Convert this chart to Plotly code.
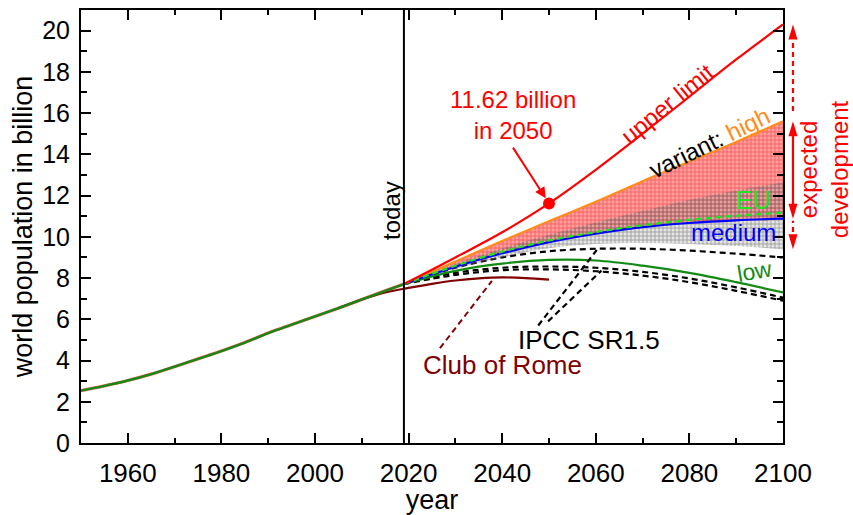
import plotly.graph_objects as go

# ---- data (world population in billion) ----
hist_years = [1950, 1955, 1960, 1965, 1970, 1975, 1980, 1985, 1990, 1995, 2000, 2005, 2010, 2015, 2019]
hist_pop = [2.54, 2.77, 3.03, 3.34, 3.70, 4.08, 4.46, 4.87, 5.33, 5.74, 6.14, 6.54, 6.96, 7.38, 7.71]

proj_years = [2019, 2030, 2040, 2050, 2060, 2070, 2080, 2090, 2100]
upper_limit = [7.71, 9.00, 10.22, 11.62, 13.25, 15.00, 16.80, 18.60, 20.30]
variant_high = [7.71, 8.80, 9.80, 10.75, 11.70, 12.70, 13.65, 14.60, 15.60]
variant_medium = [7.71, 8.55, 9.20, 9.74, 10.15, 10.47, 10.67, 10.80, 10.88]
variant_eu = [7.71, 8.60, 9.28, 9.82, 10.23, 10.56, 10.82, 11.02, 11.17]
variant_low = [7.71, 8.35, 8.70, 8.88, 8.85, 8.60, 8.25, 7.80, 7.30]
medium_band_lo = [7.71, 8.45, 9.00, 9.45, 9.65, 9.70, 9.65, 9.55, 9.40]
medium_band_hi = [7.71, 8.67, 9.45, 10.10, 10.70, 11.25, 11.80, 12.25, 12.65]
ipcc_a = [7.71, 8.50, 9.00, 9.30, 9.42, 9.42, 9.33, 9.18, 9.00]
ipcc_b = [7.71, 8.25, 8.50, 8.56, 8.50, 8.30, 7.98, 7.55, 7.05]
ipcc_c = [7.71, 8.15, 8.38, 8.42, 8.33, 8.12, 7.80, 7.38, 6.90]

club_years = [2005, 2010, 2015, 2020, 2025, 2030, 2035, 2040, 2045, 2050]
club_of_rome = [6.54, 6.96, 7.30, 7.52, 7.72, 7.88, 7.98, 8.03, 8.00, 7.92]

today = 2019
marked_year = 2050

FONT = "Liberation Sans, Arial, sans-serif"
RED = "#ff0000"
ORANGE = "#ff8c1a"
BLUE = "#0000ff"
LIME = "#22e022"
GREEN = "#138a13"
DARKRED = "#800000"

fig = go.Figure()

# hatched band between medium and high variant
fig.add_trace(go.Scatter(x=proj_years, y=variant_medium, mode="lines", line=dict(width=0, shape="spline"),
                         hoverinfo="skip"))
fig.add_trace(go.Scatter(x=proj_years, y=variant_high, mode="lines", line=dict(width=0, shape="spline"),
                         fill="tonexty", fillcolor="rgba(255,80,80,0.65)",
                         fillpattern=dict(shape="+", fgcolor="rgba(230,0,0,0.9)",
                                          bgcolor="rgba(255,95,95,0.6)", size=4, solidity=0.35),
                         hoverinfo="skip"))

# IPCC SR1.5 pathways
for series in (ipcc_a, ipcc_b, ipcc_c):
    fig.add_trace(go.Scatter(x=proj_years, y=series, mode="lines",
                             line=dict(color="black", width=2.2, dash="6px,4px", shape="spline")))

# uncertainty band around the medium variant
fig.add_trace(go.Scatter(x=proj_years, y=medium_band_lo, mode="lines", line=dict(width=0, shape="spline"),
                         hoverinfo="skip"))
fig.add_trace(go.Scatter(x=proj_years, y=medium_band_hi, mode="lines", line=dict(width=0, shape="spline"),
                         fill="tonexty", fillcolor="rgba(110,110,110,0.4)",
                         fillpattern=dict(shape="+", fgcolor="rgba(30,30,30,0.8)",
                                          bgcolor="rgba(170,170,170,0.3)", size=4, solidity=0.35),
                         hoverinfo="skip"))

# Club of Rome
fig.add_trace(go.Scatter(x=club_years, y=club_of_rome, mode="lines",
                         line=dict(color=DARKRED, width=2.2, shape="spline")))

# variants
fig.add_trace(go.Scatter(x=proj_years, y=variant_low, mode="lines",
                         line=dict(color=GREEN, width=2.2, shape="spline")))
fig.add_trace(go.Scatter(x=proj_years, y=variant_high, mode="lines",
                         line=dict(color=ORANGE, width=2.2, shape="spline")))
fig.add_trace(go.Scatter(x=proj_years, y=variant_medium, mode="lines",
                         line=dict(color=BLUE, width=2.2, shape="spline")))
fig.add_trace(go.Scatter(x=proj_years, y=variant_eu, mode="lines",
                         line=dict(color=LIME, width=2.2, dash="6px,4px", shape="spline")))
fig.add_trace(go.Scatter(x=proj_years, y=upper_limit, mode="lines",
                         line=dict(color=RED, width=2.2, shape="spline")))

# historical population
fig.add_trace(go.Scatter(x=hist_years, y=hist_pop, mode="lines",
                         line=dict(color="rgba(255,0,0,0.6)", width=3.2, shape="spline")))
fig.add_trace(go.Scatter(x=hist_years, y=hist_pop, mode="lines",
                         line=dict(color=GREEN, width=2.4, shape="spline")))

# marked value of the upper limit
marked_value = upper_limit[proj_years.index(marked_year)]
fig.add_trace(go.Scatter(x=[marked_year], y=[marked_value], mode="markers",
                         marker=dict(color=RED, size=12), cliponaxis=False))

shapes = []
# "today" marker line
shapes.append(dict(type="line", xref="x", yref="paper", x0=today, x1=today, y0=0, y1=1,
                   line=dict(color="black", width=2)))
# leader lines
shapes.append(dict(type="line", xref="x", yref="y", x0=2026.7, y0=4.60, x1=2037.8, y1=7.86,
                   line=dict(color=DARKRED, width=2, dash="6px,4px")))
shapes.append(dict(type="line", xref="x", yref="y", x0=2047.7, y0=5.70, x1=2060.2, y1=9.36,
                   line=dict(color="black", width=2.2, dash="6px,4px")))
shapes.append(dict(type="line", xref="x", yref="y", x0=2049.8, y0=5.90, x1=2061.2, y1=8.36,
                   line=dict(color="black", width=2.2, dash="6px,4px")))

# range arrows at the right edge
AX = 1.0142
top_v, high_v, med_v, low_v = upper_limit[-1], variant_high[-1], variant_medium[-1], medium_band_lo[-1]
shapes.append(dict(type="line", xref="paper", yref="y", x0=AX, x1=AX, y0=high_v + 0.5, y1=top_v - 0.4,
                   line=dict(color=RED, width=2.2, dash="5px,4px")))
shapes.append(dict(type="line", xref="paper", yref="y", x0=AX, x1=AX, y0=med_v + 0.4, y1=high_v - 0.4,
                   line=dict(color=RED, width=2.2)))
shapes.append(dict(type="line", xref="paper", yref="y", x0=AX, x1=AX, y0=low_v + 0.4, y1=med_v - 0.1,
                   line=dict(color=RED, width=2.2, dash="5px,4px")))
up_head = "M0,0L-4.5,-15L4.5,-15Z"
down_head = "M0,0L-4.5,15L4.5,15Z"
for anchor, path in ((top_v, up_head), (high_v, up_head), (med_v, down_head), (low_v, down_head)):
    shapes.append(dict(type="path", xref="paper", yref="y", xsizemode="pixel", ysizemode="pixel",
                       xanchor=AX, yanchor=anchor, path=path, fillcolor=RED, line=dict(width=0)))

annotations = [
    dict(x=2016.3, y=11.27, text="today", textangle=-90, font=dict(size=24, color="black")),
    dict(x=2042.3, y=15.9, text=f"{marked_value:.2f} billion<br>in {marked_year}",
         font=dict(size=24, color=RED)),
    dict(x=marked_year, y=marked_value, ax=2042.1, ay=14.4, axref="x", ayref="y", text="",
         showarrow=True, arrowhead=2, arrowsize=1.1, arrowwidth=2, arrowcolor=RED, standoff=6),
    dict(x=2075.4, y=16.45, text="upper limit", textangle=-39, font=dict(size=24, color=RED)),
    dict(x=2084.4, y=14.58, text=f"variant: <span style='color:{ORANGE}'>high</span>", textangle=-26,
         font=dict(size=24, color="black")),
    dict(x=2093.6, y=11.79, text="EU", font=dict(size=25, color=LIME)),
    dict(x=2089.5, y=10.21, text="medium", font=dict(size=24, color=BLUE)),
    dict(x=2094.0, y=8.34, text="low", textangle=-10, font=dict(size=23, color=GREEN)),
    dict(x=2058.5, y=4.99, text="IPCC SR1.5", font=dict(size=26, color="black")),
    dict(x=2040.0, y=3.79, text="Club of Rome", font=dict(size=26, color=DARKRED)),
    dict(x=1.0584, xref="paper", y=13.28, text="expected<br>development", textangle=-90,
         font=dict(size=24, color=RED)),
]
for a in annotations:
    a.setdefault("xref", "x")
    a.setdefault("yref", "y")
    a.setdefault("showarrow", False)
    a.setdefault("xanchor", "center")
    a.setdefault("yanchor", "middle")

axis_common = dict(showline=True, linecolor="black", linewidth=2, mirror="allticks",
                   ticks="inside", ticklen=10, tickwidth=2, tickcolor="black",
                   showgrid=False, zeroline=False)

fig.update_layout(
    width=853, height=515,
    margin=dict(l=81, r=70, t=8, b=64),
    paper_bgcolor="white", plot_bgcolor="white",
    showlegend=False,
    font=dict(family=FONT, color="black"),
    shapes=shapes,
    annotations=annotations,
    xaxis=dict(range=[1950, 2100], tick0=1960, dtick=20, ticklabelstandoff=6,
               tickfont=dict(size=26, color="black", family=FONT),
               minor=dict(ticks="inside", ticklen=5, tickwidth=2, tickcolor="black", dtick=10, tick0=1950),
               title=dict(text="year", font=dict(size=27), standoff=0), **axis_common),
    yaxis=dict(range=[0, 21], tick0=0, dtick=2, ticklabelstandoff=4,
               tickfont=dict(size=25, color="black", family=FONT),
               minor=dict(ticks="inside", ticklen=6, tickwidth=2, tickcolor="black", dtick=1),
               title=dict(text="world population in billion", font=dict(size=27), standoff=2), **axis_common),
)

fig.write_html("out.html")
